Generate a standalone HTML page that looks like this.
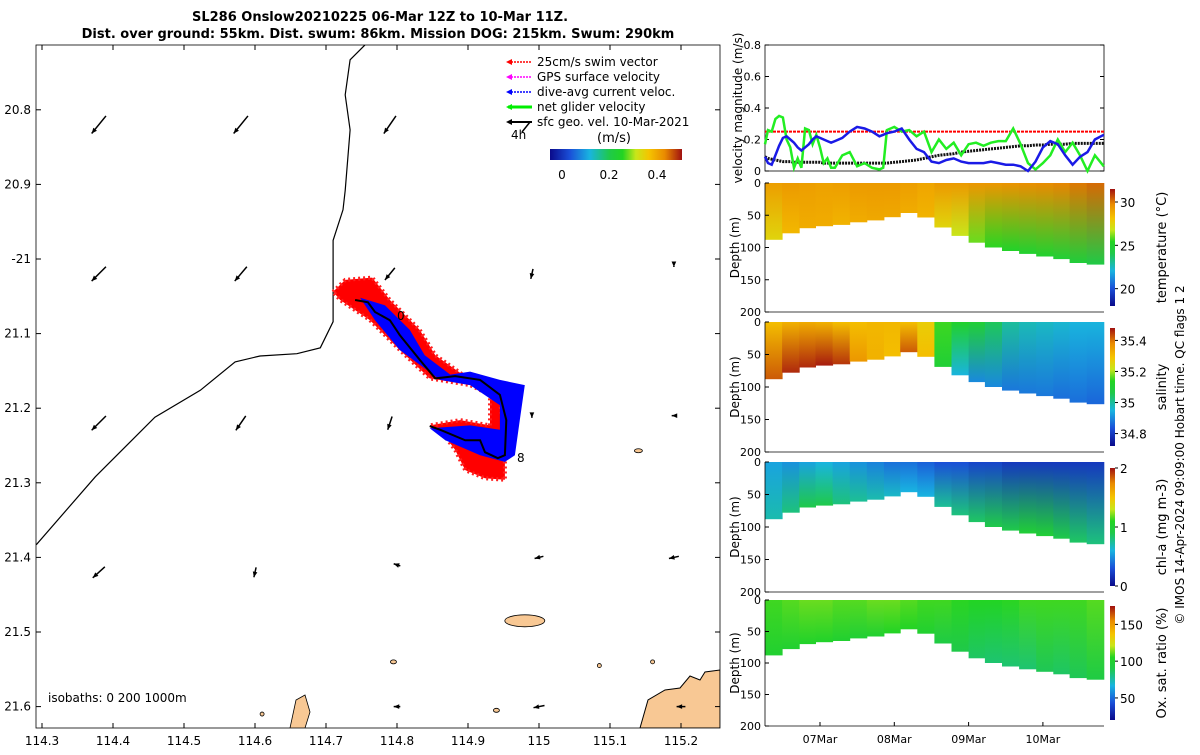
<!DOCTYPE html>
<html><head><meta charset="utf-8">
<style>
body{margin:0;background:#fff;width:1200px;height:750px;overflow:hidden;font-family:"Liberation Sans","DejaVu Sans",sans-serif;}
svg text{font-family:"DejaVu Sans","Liberation Sans",sans-serif;}
</style></head>
<body>
<svg id="fig" width="1200" height="750" viewBox="0 0 1200 750" xmlns="http://www.w3.org/2000/svg">
<defs>
<linearGradient id="cmapH" x1="0" x2="1" y1="0" y2="0">
<stop offset="0" stop-color="#0a0a8a"/><stop offset="0.15" stop-color="#1a4fd8"/><stop offset="0.3" stop-color="#19b4e0"/><stop offset="0.45" stop-color="#1fc94a"/><stop offset="0.55" stop-color="#22d422"/><stop offset="0.65" stop-color="#c8e61a"/><stop offset="0.75" stop-color="#f5c400"/><stop offset="0.87" stop-color="#e98a00"/><stop offset="1" stop-color="#a01010"/>
</linearGradient>
<linearGradient id="cmapV" x1="0" x2="0" y1="1" y2="0">
<stop offset="0" stop-color="#0a0a8a"/><stop offset="0.15" stop-color="#1a4fd8"/><stop offset="0.3" stop-color="#19b4e0"/><stop offset="0.45" stop-color="#1fc94a"/><stop offset="0.55" stop-color="#22d422"/><stop offset="0.65" stop-color="#c8e61a"/><stop offset="0.75" stop-color="#f5c400"/><stop offset="0.87" stop-color="#e98a00"/><stop offset="1" stop-color="#a01010"/>
</linearGradient>
</defs>
<g font-weight="bold" font-size="13" text-anchor="middle">
<text x="380" y="21">SL286 Onslow20210225 06-Mar 12Z to 10-Mar 11Z.</text>
<text x="378" y="38">Dist. over ground: 55km. Dist. swum: 86km. Mission DOG: 215km. Swum: 290km</text>
</g>
<g id="map"></g>
<g id="right"></g>
<text transform="translate(1184,455) rotate(-90)" font-size="12" text-anchor="middle">© IMOS 14-Apr-2024 09:09:00 Hobart time. QC flags 1  2</text>
</svg>
<script>
// ---------- DATA ----------
const lonTicks=[114.3,114.4,114.5,114.6,114.7,114.8,114.9,115,115.1,115.2];
const latTicks=[20.8,20.9,21,21.1,21.2,21.3,21.4,21.5,21.6];
const latLabels=["20.8","20.9","-21","21.1","21.2","21.3","21.4","21.5","21.6"];
const lonLabels=["114.3","114.4","114.5","114.6","114.7","114.8","114.9","115","115.1","115.2"];
const coastLon=[114.292,114.375,114.459,114.523,114.572,114.607,114.659,114.692,114.71,114.71,114.724,114.727,114.734,114.727,114.734,114.755];
const coastLat=[21.383,21.292,21.212,21.176,21.138,21.13,21.127,21.119,21.084,20.975,20.934,20.908,20.827,20.78,20.733,20.713];
const trackLon=[114.741,114.759,114.769,114.790,114.804,114.832,114.854,114.882,114.917,114.945,114.954,114.952,114.942,114.924,114.917,114.896,114.861,114.846];
const trackLat=[21.055,21.058,21.071,21.082,21.102,21.135,21.160,21.157,21.162,21.182,21.216,21.263,21.267,21.259,21.243,21.243,21.229,21.224];
const redLon=[114.710,114.727,114.765,114.790,114.832,114.854,114.903,114.945,114.952,114.952,114.924,114.896,114.882,114.861,114.846,114.889,114.931,114.931,114.903,114.846,114.804,114.762,114.720];
const redLat=[21.044,21.028,21.025,21.055,21.095,21.129,21.162,21.189,21.243,21.296,21.294,21.283,21.256,21.229,21.223,21.216,21.223,21.182,21.169,21.160,21.122,21.082,21.055];
const blueLon=[114.748,114.783,114.818,114.839,114.875,114.903,114.945,114.980,114.973,114.966,114.952,114.917,114.868,114.846,114.903,114.945,114.945,114.903,114.861,114.804,114.769];
const blueLat=[21.052,21.062,21.095,21.129,21.155,21.151,21.162,21.169,21.216,21.263,21.272,21.263,21.243,21.227,21.223,21.229,21.196,21.169,21.162,21.122,21.082];
const arrowLon=[114.38,114.58,114.79,114.38,114.58,114.79,114.99,115.19,114.38,114.58,114.79,114.99,115.19,114.38,114.6,114.8,115.0,115.19,114.8,115.0,115.2];
const arrowLat=[20.82,20.82,20.82,21.02,21.02,21.02,21.02,21.01,21.22,21.22,21.22,21.21,21.21,21.42,21.42,21.41,21.4,21.4,21.6,21.6,21.6];
const arrowU=[0.13,0.13,0.11,0.13,0.11,0.09,0.02,0,0.13,0.09,0.04,0.0,0.04,0.11,0.02,0.06,0.08,0.09,0.06,0.1,0.08];
const arrowV=[0.16,0.16,0.16,0.13,0.13,0.11,0.09,0.01,0.13,0.13,0.12,0.04,0.0,0.1,0.09,-0.02,0.02,0.02,0.0,0.02,0.0];
const islandLon=[114.98,114.795,115.14,114.94,114.61,115.085,115.16];
const islandLat=[21.485,21.54,21.257,21.605,21.61,21.545,21.54];
const islandR=[20,3,4,3,2,2,2];
// right panels
const days=[6.26,6.49,6.72,6.94,7.17,7.40,7.63,7.86,8.08,8.31,8.54,8.77,9.0,9.22,9.45,9.68,9.91,10.14,10.36,10.59,10.82];
const bottomDepth=[92,84,72,68,66,64,58,58,48,45,62,76,88,97,103,108,112,116,120,128,125];
const velT=[6.26,6.3,6.35,6.4,6.45,6.5,6.55,6.6,6.65,6.7,6.75,6.8,6.85,6.9,6.95,7.0,7.05,7.1,7.15,7.2,7.3,7.4,7.5,7.6,7.7,7.8,7.85,7.9,8.0,8.1,8.2,8.3,8.4,8.5,8.6,8.7,8.8,8.9,9.0,9.1,9.2,9.3,9.4,9.5,9.6,9.7,9.8,9.9,10.0,10.1,10.2,10.3,10.4,10.5,10.6,10.7,10.82];
const curVel=[0.09,0.05,0.04,0.1,0.16,0.21,0.22,0.2,0.18,0.15,0.13,0.15,0.17,0.2,0.22,0.21,0.2,0.19,0.18,0.19,0.21,0.25,0.28,0.27,0.25,0.22,0.23,0.24,0.25,0.27,0.2,0.14,0.12,0.06,0.05,0.07,0.08,0.06,0.05,0.05,0.05,0.06,0.05,0.04,0.04,0.03,0.0,0.06,0.15,0.19,0.17,0.1,0.04,0.09,0.12,0.2,0.23];
const netVel=[0.17,0.26,0.25,0.33,0.35,0.34,0.2,0.15,0.02,0.08,0.02,0.27,0.26,0.17,0.23,0.15,0.05,0.08,0.02,0.02,0.1,0.12,0.03,0.05,0.02,0.01,0.02,0.26,0.28,0.25,0.26,0.22,0.25,0.12,0.2,0.14,0.18,0.1,0.17,0.18,0.16,0.18,0.19,0.19,0.27,0.17,0.05,0.01,0.05,0.1,0.2,0.12,0.18,0.1,0.0,0.1,0.03];
const geoVel=[0.09,0.08,0.075,0.07,0.065,0.06,0.06,0.06,0.055,0.055,0.055,0.055,0.055,0.055,0.055,0.055,0.05,0.05,0.05,0.05,0.05,0.05,0.05,0.05,0.05,0.05,0.05,0.05,0.055,0.06,0.065,0.07,0.08,0.09,0.1,0.105,0.11,0.12,0.125,0.13,0.135,0.14,0.145,0.15,0.155,0.16,0.16,0.165,0.165,0.17,0.17,0.17,0.175,0.175,0.175,0.175,0.175];
const swimVel=0.25;
const velTicks=[0,0.2,0.4,0.6,0.8];
const dayTicks=[7,8,9,10];
const dayLabels=["07Mar","08Mar","09Mar","10Mar"];
const tempTop=[29.2,29.3,29.2,29.1,29.2,29.3,29.3,29.3,29.2,29.0,29.3,29.3,29.4,29.4,29.5,29.6,29.7,29.8,30.0,30.2,30.0];
const tempBot=[27.5,28.5,28.8,28.8,28.6,28.8,28.9,28.9,28.8,28.6,27.5,26.8,26,25.5,25.2,25.0,25.0,24.8,24.6,24.2,26];
const salTop=[35.3,35.32,35.33,35.32,35.3,35.3,35.31,35.31,35.3,35.27,35.15,35.12,35.1,35.05,35.0,34.98,34.97,34.96,34.95,34.95,34.95];
const salBot=[35.42,35.46,35.46,35.47,35.45,35.36,35.32,35.3,35.42,35.3,35.1,34.95,34.9,34.9,34.88,34.88,34.88,34.87,34.87,34.86,34.87];
const chlTop=[0.55,0.5,0.55,0.6,0.55,0.5,0.45,0.4,0.4,0.35,0.3,0.3,0.25,0.25,0.2,0.2,0.2,0.2,0.2,0.2,0.2];
const chlBot=[0.7,0.8,0.9,0.9,0.8,0.75,0.7,0.65,0.6,0.6,0.75,0.8,0.85,0.9,0.9,1.0,1.0,0.9,0.85,0.8,0.8];
const oxTop=[108,110,112,112,110,110,112,112,110,108,108,106,105,105,106,108,108,108,108,110,108];
const oxBot=[100,100,102,102,100,98,100,104,104,100,92,90,86,84,84,84,88,86,88,92,96];
// ---------- HELPERS ----------
const NS="http://www.w3.org/2000/svg";
function mk(p,t,a){const e=document.createElementNS(NS,t);for(const k in a)e.setAttribute(k,a[k]);p.appendChild(e);return e;}
const stops=[[0,[10,10,138]],[0.15,[26,79,216]],[0.3,[25,180,224]],[0.45,[31,201,74]],[0.55,[34,212,34]],[0.65,[200,230,26]],[0.75,[245,196,0]],[0.87,[233,138,0]],[1,[160,16,16]]];
function cmap(f){f=Math.max(0,Math.min(1,f));for(let i=1;i<stops.length;i++){if(f<=stops[i][0]){const a=stops[i-1],b=stops[i],t=(f-a[0])/(b[0]-a[0]);const c=a[1].map((v,j)=>Math.round(v+(b[1][j]-v)*t));return`rgb(${c})`;}}return"rgb(160,16,16)";}
// ---------- MAP ----------
const map=document.getElementById('map');
const mx=l=>42+(l-114.3)*710, my=l=>259+(l-21)*746;
const ML=36,MR=720,MT=45,MB=728;
function poly(lons,lats){return lons.map((l,i)=>mx(l).toFixed(1)+","+my(lats[i]).toFixed(1)).join(" ");}
const clip=mk(map,'clipPath',{id:'mapclip'});mk(clip,'rect',{x:ML,y:MT,width:MR-ML,height:MB-MT});
const mg=mk(map,'g',{'clip-path':'url(#mapclip)'});
let e;
e=mk(mg,'polygon',{points:"640,728 648,700 665,690 680,688 690,676 700,680 705,672 720,670 720,728",fill:'#f8c894',stroke:'#000','stroke-width':1});

islandLon.forEach((l,i)=>{const r=islandR[i];const el=mk(mg,'ellipse',{cx:mx(l),cy:my(islandLat[i]),rx:r,ry:Math.max(2,r*0.3),fill:'#f8c894',stroke:'#000','stroke-width':0.8});

});
e=mk(mg,'polyline',{points:"290,728 296,700 305,695 310,712 305,728",fill:'#f8c894',stroke:'#000','stroke-width':0.8});

e=mk(mg,'polyline',{points:poly(coastLon,coastLat),fill:'none',stroke:'#000','stroke-width':1.2});

e=mk(mg,'polygon',{points:poly(redLon,redLat),fill:'#ff0000',stroke:'#ff2020','stroke-width':4,'stroke-dasharray':'2 3'});

e=mk(mg,'polygon',{points:poly(blueLon,blueLat),fill:'#0000ff'});

e=mk(mg,'polyline',{points:poly(trackLon,trackLat),fill:'none',stroke:'#000','stroke-width':2});

mk(mg,'text',{x:397,y:320,'font-size':12}).textContent="0";
mk(mg,'text',{x:517,y:462,'font-size':12}).textContent="8";
arrowLon.forEach((l,i)=>{const x=mx(l),y=my(arrowLat[i]);const u=arrowU[i]*110,v=arrowV[i]*110;
const g=mk(mg,'g',{});


mk(g,'line',{x1:x+u/2,y1:y-v/2,x2:x-u/2,y2:y+v/2,stroke:'#000','stroke-width':1.5});
const hx=x-u/2,hy=y+v/2;const a=Math.atan2(v,-u);mk(g,'polygon',{points:`${hx},${hy} ${hx-6*Math.cos(a-0.4)},${hy-6*Math.sin(a-0.4)} ${hx-6*Math.cos(a+0.4)},${hy-6*Math.sin(a+0.4)}`,fill:'#000'});});
e=mk(map,'rect',{x:ML,y:MT,width:MR-ML,height:MB-MT,fill:'none',stroke:'#000','stroke-width':0.8});

lonTicks.forEach((l,i)=>{const x=mx(l);mk(map,'line',{x1:x,y1:MB,x2:x,y2:MB-5,stroke:'#000'});mk(map,'line',{x1:x,y1:MT,x2:x,y2:MT+5,stroke:'#000'});
const t=mk(map,'text',{x:x,y:745,'font-size':12,'text-anchor':'middle'});t.textContent=lonLabels[i];

});
latTicks.forEach((l,i)=>{const y=my(l);mk(map,'line',{x1:ML,y1:y,x2:ML+5,y2:y,stroke:'#000'});mk(map,'line',{x1:MR,y1:y,x2:MR-5,y2:y,stroke:'#000'});
const t=mk(map,'text',{x:31,y:y+4,'font-size':12,'text-anchor':'end'});t.textContent=latLabels[i];

});
mk(map,'text',{x:48,y:702,'font-size':12}).textContent="isobaths: 0   200  1000m";
// legend
const leg=mk(map,'g',{});


const legItems=[["25cm/s swim vector","#ff0000",1.5],["GPS surface velocity","#ff00ff",1.5],["dive-avg current veloc.","#0000ff",1.5],["net glider velocity","#00ee00",3],["sfc geo. vel. 10-Mar-2021","#000",2]];
legItems.forEach((it,i)=>{const y=62+i*15;mk(leg,'line',{x1:508,y1:y,x2:532,y2:y,stroke:it[1],'stroke-width':it[2],'stroke-dasharray':i<3?'2 1':''});
mk(leg,'polygon',{points:`506,${y} 512,${y-3} 512,${y+3}`,fill:it[1]});
mk(leg,'text',{x:537,y:y+4,'font-size':12}).textContent=it[0];});
mk(leg,'line',{x1:530,y1:122,x2:522,y2:132,stroke:'#000','stroke-width':1.5});
mk(leg,'text',{x:511,y:139,'font-size':12}).textContent="4h";
mk(leg,'text',{x:597,y:142,'font-size':13}).textContent="(m/s)";
mk(leg,'rect',{x:550,y:149,width:132,height:11,fill:'url(#cmapH)'});
[["0",562],["0.2",609],["0.4",657]].forEach(t=>{mk(leg,'text',{x:t[1],y:179,'font-size':12,'text-anchor':'middle'}).textContent=t[0];});
// ---------- RIGHT PANELS ----------
const R=document.getElementById('right');
const X0=765,X1=1104;
const tx=d=>820+(d-7)*74.3;
const VT=45,VB=171;
const vy=v=>VB-v/0.8*(VB-VT);
const vp=mk(R,'g',{});


mk(vp,'rect',{x:X0,y:VT,width:X1-X0,height:VB-VT,fill:'#fff',stroke:'#000','stroke-width':0.8});
velTicks.forEach(v=>{mk(vp,'line',{x1:X0,y1:vy(v),x2:X0+4,y2:vy(v),stroke:'#000'});mk(vp,'line',{x1:X1,y1:vy(v),x2:X1-4,y2:vy(v),stroke:'#000'});
const t=mk(vp,'text',{x:X0-4,y:vy(v)+4,'font-size':11,'text-anchor':'end'});t.textContent=String(v);

});
const lineOf=(arr,col,w,nm,dash)=>{const p=mk(vp,'polyline',{points:velT.map((t,i)=>tx(t).toFixed(1)+","+vy(arr[i]).toFixed(1)).join(" "),fill:'none',stroke:col,'stroke-width':w,'stroke-dasharray':dash||''});

};
e=mk(vp,'line',{x1:X0,y1:vy(swimVel),x2:X1,y2:vy(swimVel),stroke:'#ff0000','stroke-width':2,'stroke-dasharray':'3 1'});

lineOf(geoVel,'#111',3,'geostrophic-velocity-line','2 1');
lineOf(netVel,'#22ee22',2.5,'net-glider-velocity-line');
lineOf(curVel,'#1a1ae6',2.5,'dive-avg-current-line');
const yt=mk(vp,'text',{transform:`translate(742,108) rotate(-90)`,'font-size':12,'text-anchor':'middle'});yt.textContent="velocity magnitude (m/s)";
const panels=[
 {nm:'temperature',top:183,bot:312,top_:tempTop,bot_:tempBot,min:18,max:31.5,ticks:[20,25,30],lab:"temperature (°C)"},
 {nm:'salinity',top:322,bot:452,top_:salTop,bot_:salBot,min:34.72,max:35.48,ticks:[34.8,35,35.2,35.4],lab:"salinity"},
 {nm:'chlorophyll',top:462,bot:592,top_:chlTop,bot_:chlBot,min:0,max:2,ticks:[0,1,2],lab:"chl-a (mg m-3)"},
 {nm:'oxygen',top:600,bot:726,top_:oxTop,bot_:oxBot,min:20,max:175,ticks:[50,100,150],lab:"Ox. sat. ratio (%)"}];
panels.forEach((P,pi)=>{
 const g=mk(R,'g',{});
 
 
 const dy=d=>P.top+d/200*(P.bot-P.top);
 const f=v=>(v-P.min)/(P.max-P.min);
 days.forEach((d,i)=>{if(i==days.length-1)return;
  const x=tx(d),w=tx(days[i+1])-x+0.5;
  const gid='g'+pi+'_'+i;const lg=mk(g,'linearGradient',{id:gid,x1:0,x2:0,y1:0,y2:1});
  mk(lg,'stop',{offset:0,'stop-color':cmap(f(P.top_[i]))});mk(lg,'stop',{offset:1,'stop-color':cmap(f(P.bot_[i]))});
  const h=dy((bottomDepth[i]+bottomDepth[i+1])/2)-P.top;
  const c=mk(g,'rect',{x:x.toFixed(1),y:P.top,width:w.toFixed(1),height:h.toFixed(1),fill:`url(#${gid})`});
  
  });
 mk(g,'line',{x1:X0,y1:P.bot,x2:X1,y2:P.bot,stroke:'#000','stroke-width':0.8});
 mk(g,'line',{x1:X0,y1:P.top,x2:X0,y2:P.bot,stroke:'#000','stroke-width':0.8});
 [0,50,100,150,200].forEach(d=>{mk(g,'line',{x1:X0,y1:dy(d),x2:X0+4,y2:dy(d),stroke:'#000'});
  const t=mk(g,'text',{x:X0-4,y:dy(d)+4,'font-size':11,'text-anchor':'end'});t.textContent=String(d);
  
  });
 mk(g,'text',{transform:`translate(739,${(P.top+P.bot)/2}) rotate(-90)`,'font-size':12,'text-anchor':'middle'}).textContent="Depth (m)";
 const cb=mk(g,'rect',{x:1110,y:P.top+6,width:5,height:P.bot-P.top-12,fill:'url(#cmapV)'});
 
 
 const cy=v=>P.bot-6-f(v)*(P.bot-P.top-12);
 P.ticks.forEach(v=>{mk(g,'line',{x1:1115,y1:cy(v),x2:1118,y2:cy(v),stroke:'#000'});
  mk(g,'text',{x:1120,y:cy(v)+5,'font-size':12}).textContent=String(v);});
 mk(g,'text',{transform:`translate(1166,${(P.top+P.bot)/2}) rotate(-90)`,'font-size':13,'text-anchor':'middle'}).textContent=P.lab;
});
dayTicks.forEach((d,i)=>{const x=tx(d);mk(R,'line',{x1:x,y1:726,x2:x,y2:722,stroke:'#000'});
 const t=mk(R,'text',{x:x,y:743,'font-size':11,'text-anchor':'middle'});t.textContent=dayLabels[i];
 
 });
</script>
</body></html>
